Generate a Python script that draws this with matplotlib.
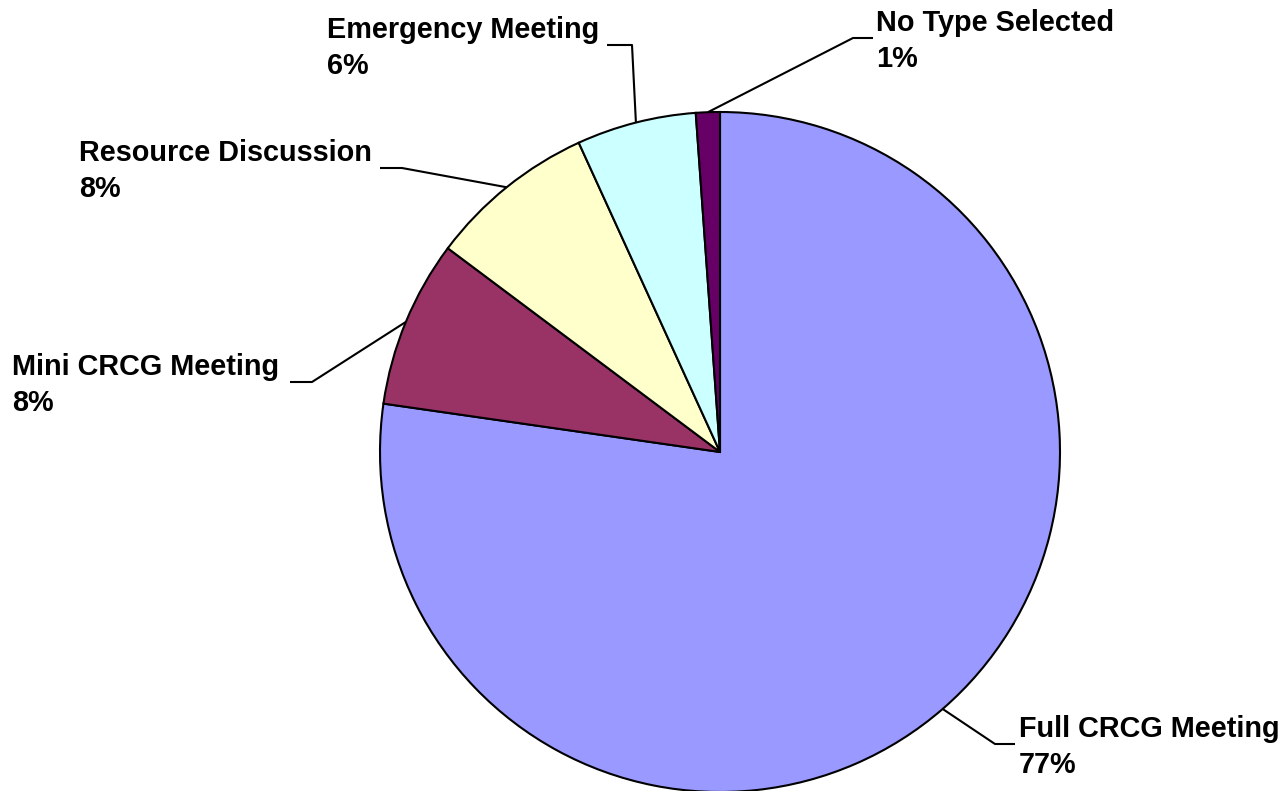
import numpy as np
import matplotlib
matplotlib.use("Agg")
import matplotlib.pyplot as plt

plt.rcParams['font.family'] = ['Liberation Sans', 'DejaVu Sans']

# data (meeting counts by type)
labels = ["Full CRCG Meeting", "Mini CRCG Meeting", "Resource Discussion",
          "Emergency Meeting", "No Type Selected"]
counts = [68, 7, 7, 5, 1]
colors = ["#9999FF", "#993366", "#FFFFCC", "#CCFFFF", "#660066"]

# label layout in pixel coords (y measured from top): elbow x, elbow y, end x, text x
label_layout = [
    (995, 744, 1015, 1019),
    (312, 382, 290, 12),
    (402, 168, 380, 79),
    (632, 45, 607, 327),
    (853, 38, 873, 876),
]

W, H = 1287, 791
fig = plt.figure(figsize=(W / 100, H / 100), dpi=100)
ax = fig.add_axes([0, 0, 1, 1])
ax.set_xlim(0, W)
ax.set_ylim(0, H)
ax.set_aspect('equal')
ax.axis('off')

cx, cy, r = 720, H - 452, 340
wedges, _ = ax.pie(counts, colors=colors, startangle=90, counterclock=False,
                   center=(cx, cy), radius=r,
                   wedgeprops=dict(edgecolor='black', linewidth=1.5))
ax.set_xlim(0, W)
ax.set_ylim(0, H)

total = sum(counts)
for w, lab, c, (ex, ey, endx, tx) in zip(wedges, labels, counts, label_layout):
    mid = np.deg2rad((w.theta1 + w.theta2) / 2)
    px, py = cx + r * np.cos(mid), cy + r * np.sin(mid)
    ax.plot([px, ex, endx], [py, H - ey, H - ey], color='black', lw=1.5,
            solid_capstyle='butt')
    pct = round(100 * c / total)
    ax.text(tx, H - ey - 3, f"{lab}\n{pct}%", ha='left', va='center',
            fontsize=20.8, fontweight='bold', linespacing=1.35)

fig.savefig("out.png", dpi=100)
